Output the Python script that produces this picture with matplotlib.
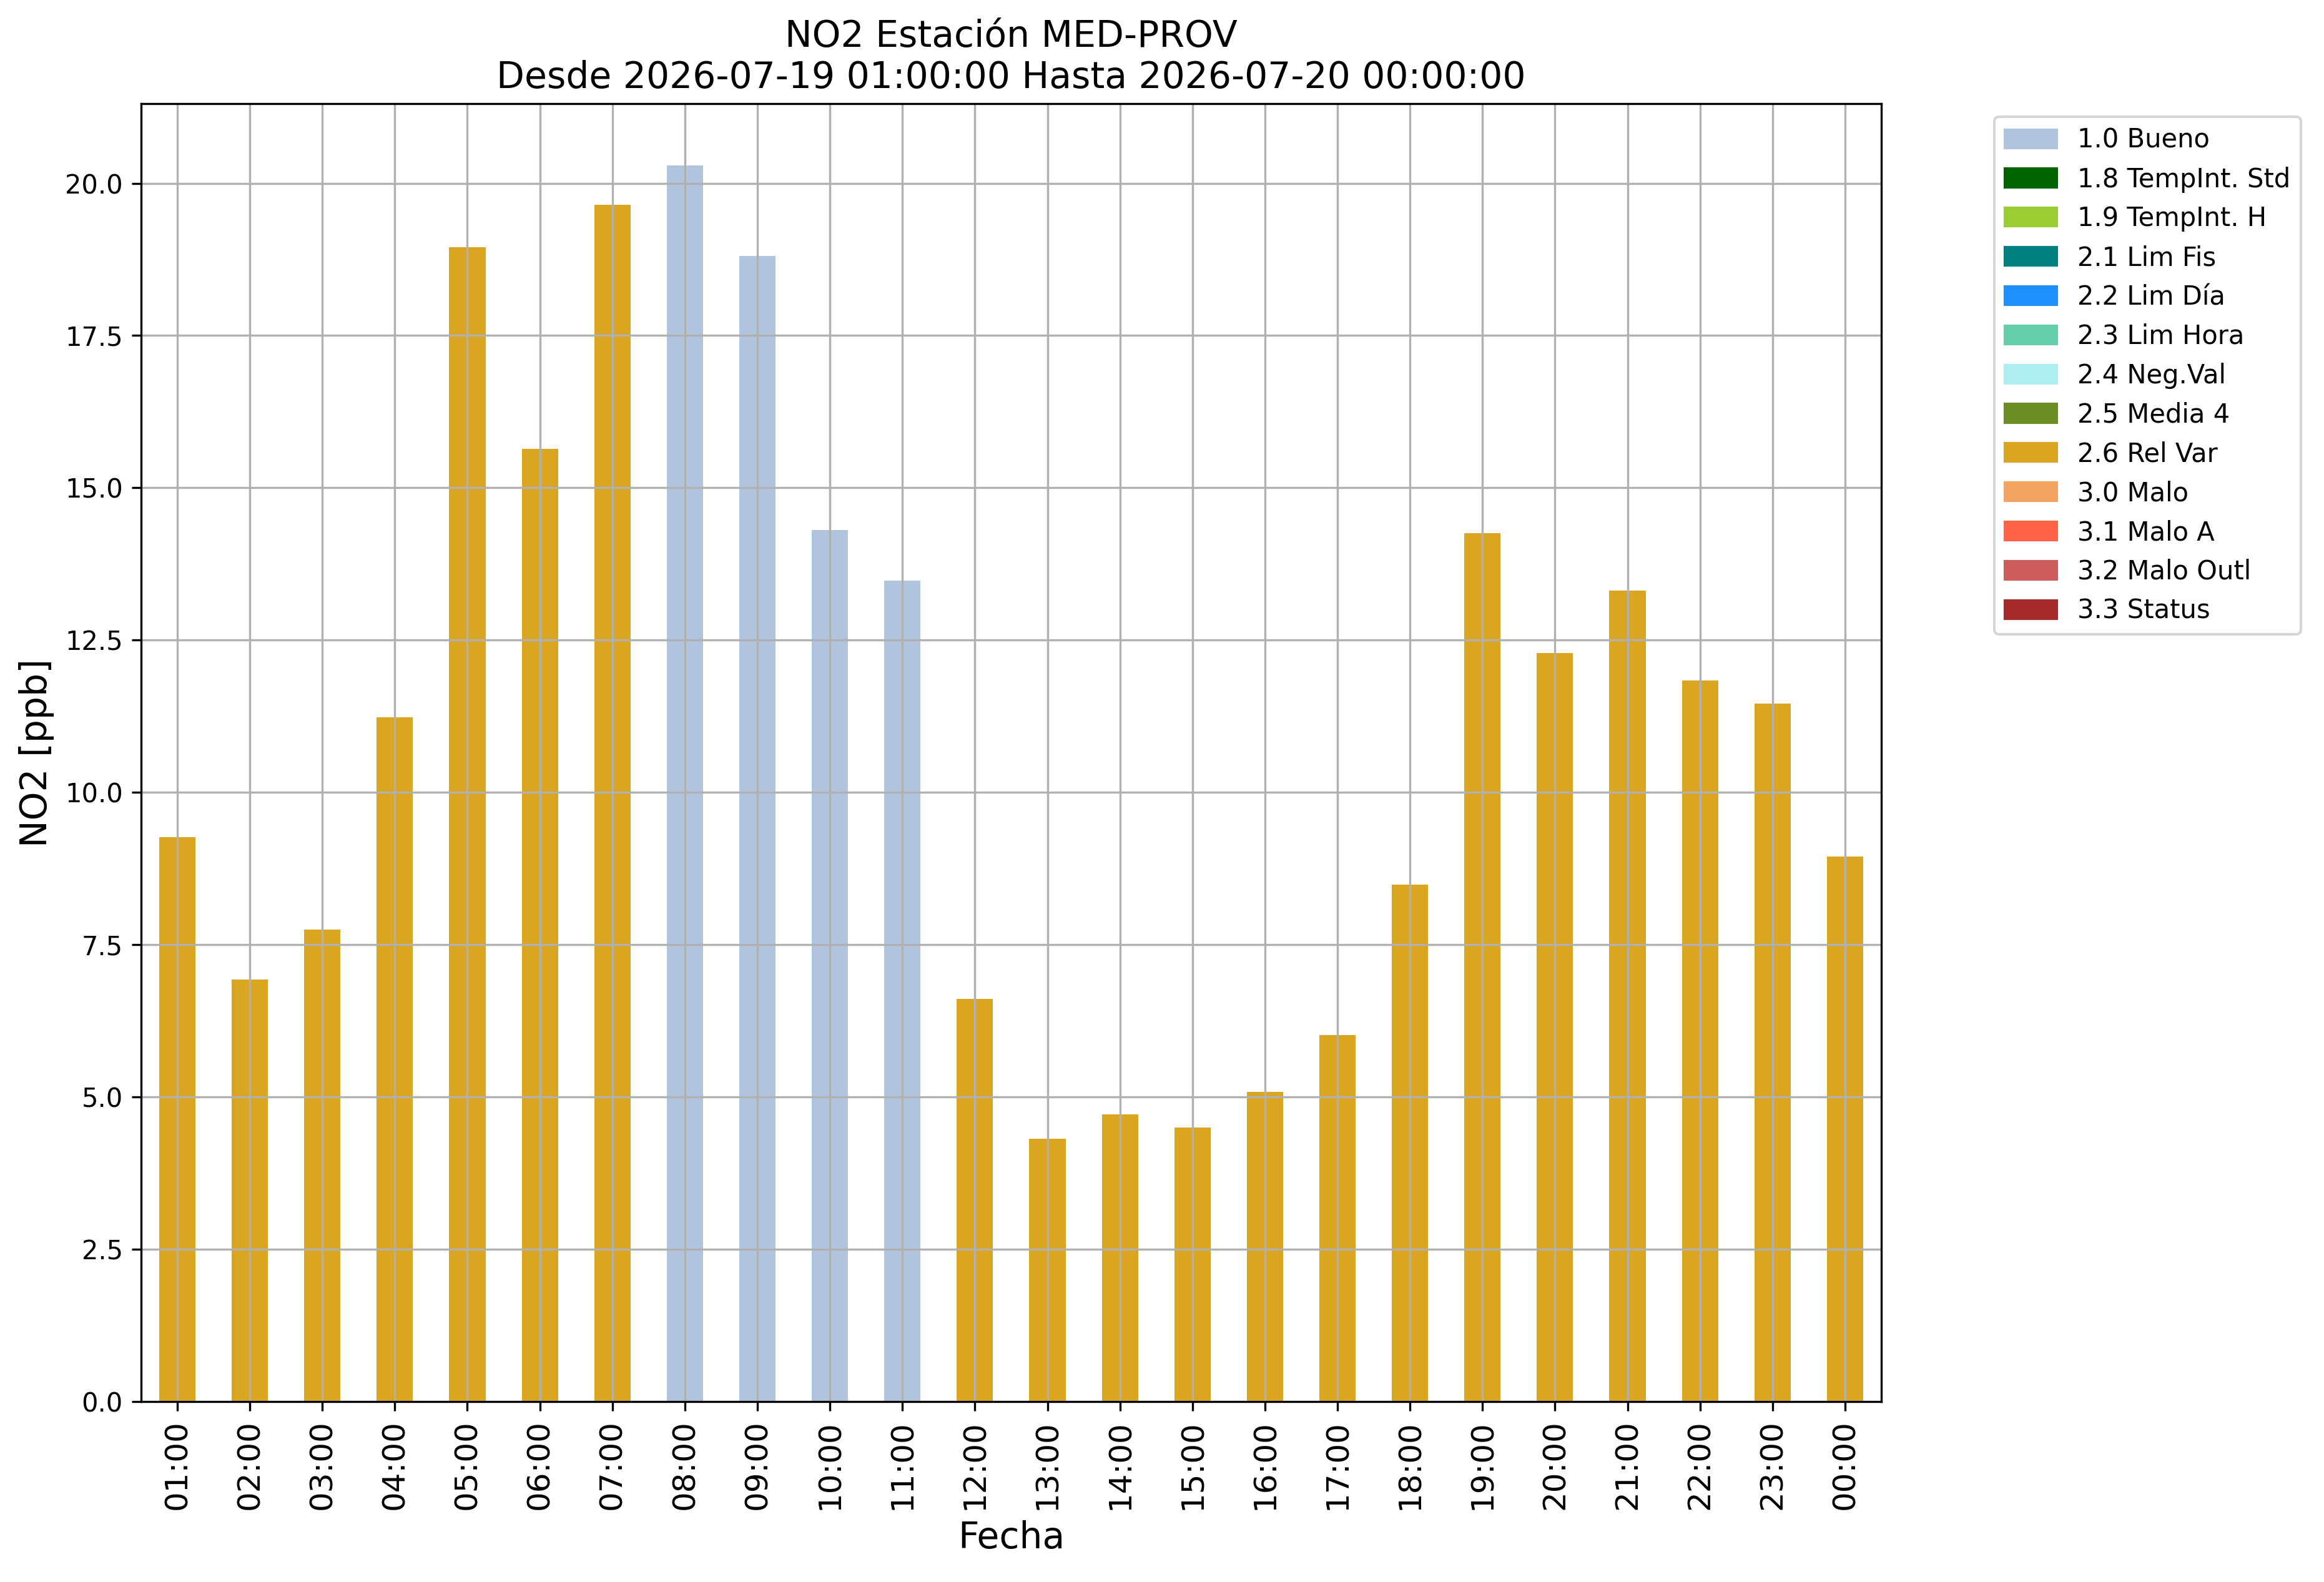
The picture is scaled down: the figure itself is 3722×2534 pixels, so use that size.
import matplotlib
matplotlib.use("Agg")
import matplotlib.pyplot as plt
from matplotlib.patches import Patch

# === Data ===
horas = ["01:00", "02:00", "03:00", "04:00", "05:00", "06:00", "07:00", "08:00",
         "09:00", "10:00", "11:00", "12:00", "13:00", "14:00", "15:00", "16:00",
         "17:00", "18:00", "19:00", "20:00", "21:00", "22:00", "23:00", "00:00"]
no2 = [9.27, 6.93, 7.75, 11.23, 18.95, 15.64, 19.65, 20.29,
       18.81, 14.31, 13.48, 6.61, 4.32, 4.72, 4.50, 5.08,
       6.02, 8.49, 14.26, 12.29, 13.31, 11.84, 11.46, 8.95]
flags = ["2.6 Rel Var"] * 7 + ["1.0 Bueno"] * 4 + ["2.6 Rel Var"] * 13

# flag labels and colours (legend order)
flag_labels = ["1.0 Bueno", "1.8 TempInt. Std", "1.9 TempInt. H", "2.1 Lim Fis",
               "2.2 Lim Día", "2.3 Lim Hora", "2.4 Neg.Val", "2.5 Media 4",
               "2.6 Rel Var", "3.0 Malo", "3.1 Malo A", "3.2 Malo Outl", "3.3 Status"]
flag_colors = ["lightsteelblue", "darkgreen", "yellowgreen", "teal",
               "dodgerblue", "mediumaquamarine", "paleturquoise", "olivedrab",
               "goldenrod", "sandybrown", "tomato", "indianred", "brown"]
color_map = dict(zip(flag_labels, flag_colors))

# === Plot ===
fig = plt.figure(figsize=(3722 / 300, 2534 / 300), dpi=300)
ax = fig.add_axes([0.0607, 0.1140, 0.7488, 0.8204])

x = list(range(len(horas)))
ax.bar(x, no2, width=0.5, color=[color_map[f] for f in flags])
ax.set_xlim(-0.5, len(horas) - 0.5)
ax.set_xticks(x)
ax.set_xticklabels(horas, rotation=90, fontsize=12)
ax.tick_params(axis="y", labelsize=10)
ax.grid(True)

ax.set_title("NO2 Estación MED-PROV\nDesde 2026-07-19 01:00:00 Hasta 2026-07-20 00:00:00",
             fontsize=14)
ax.set_xlabel("Fecha", fontsize=14)
ax.set_ylabel("NO2 [ppb]", fontsize=14)

handles = [Patch(color=c, label=l) for l, c in zip(flag_labels, flag_colors)]
ax.legend(handles=handles, loc="upper left", bbox_to_anchor=(1.0575, 1), fontsize=10)

fig.savefig("out.png", dpi=300)
